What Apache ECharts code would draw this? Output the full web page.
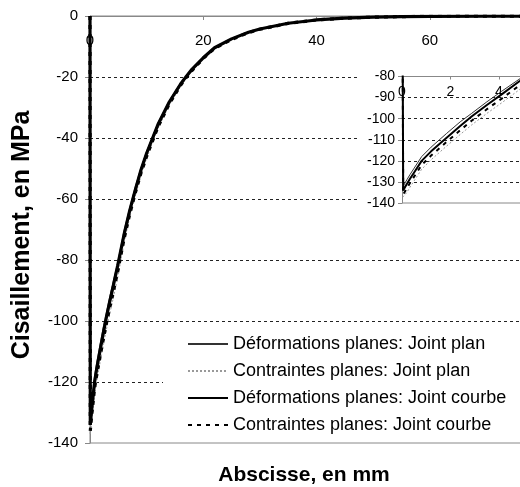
<!DOCTYPE html>
<html>
<head>
<meta charset="utf-8">
<script src="https://cdn.jsdelivr.net/npm/echarts@6/dist/echarts.min.js"></script>
<style>
html,body{margin:0;padding:0;background:#fff;}
#c{width:520px;height:487px;}
</style>
</head>
<body>
<div id="c"></div>
<script>
// Abscissa (mm)
var xs = [0, 0.05, 0.1, 0.2, 0.33, 0.5, 0.81, 1.2, 1.84, 2.4, 2.87, 3.5, 4.11, 4.87, 6, 7, 8, 9, 10, 12, 14, 16, 17, 18, 20, 22, 25, 28, 30, 35, 40, 45, 50, 55, 60, 70, 80];
// Shear stress (MPa)
var dpPlan   = [0, -132, -131, -129, -126.5, -123.5, -118, -113.5, -107, -101.5, -97.5, -92, -87, -81, -70.5, -63, -56, -49.8, -44.4, -35.1, -27.8, -21.9, -19.5, -17.3, -13.5, -10.2, -7.4, -5.3, -4.2, -2.3, -1.3, -0.7, -0.4, -0.2, -0.1, -0.03, 0];
var cpPlan   = [0, -137, -137, -135, -132.5, -129.5, -124, -119.5, -113, -107.5, -103, -97.5, -92.5, -86, -74.5, -66, -59, -52.5, -46.6, -36.9, -29.2, -23.1, -20.5, -18.1, -14.1, -10.8, -7.8, -5.5, -4.4, -2.45, -1.3, -0.7, -0.4, -0.2, -0.1, -0.03, 0];
var dpCourbe = [0, -134, -133, -131, -128.5, -125.5, -120, -115.5, -109, -103.5, -99, -93.5, -88.5, -82, -71.8, -63.9, -57, -50.5, -45, -35.6, -28.2, -22.3, -19.8, -17.5, -13.7, -10.4, -7.5, -5.35, -4.25, -2.38, -1.3, -0.7, -0.4, -0.2, -0.1, -0.03, 0];
var cpCourbe = [0, -136, -135, -133, -130.5, -127.5, -122, -117.5, -111, -105.5, -101, -95.5, -90.5, -84, -73.2, -65.1, -58, -51.5, -46, -36.4, -28.8, -22.7, -20.2, -17.9, -13.9, -10.6, -7.7, -5.45, -4.35, -2.42, -1.3, -0.7, -0.4, -0.2, -0.1, -0.03, 0];
var names = ['Déformations planes: Joint plan', 'Contraintes planes: Joint plan', 'Déformations planes: Joint courbe', 'Contraintes planes: Joint courbe'];
var xTitle = 'Abscisse, en mm';
var yTitle = 'Cisaillement, en MPa';

function pts(arr){ return xs.map(function(x,i){ return [x, arr[i]]; }); }
var FONT = 'Liberation Sans, Arial, sans-serif';
var styles = [
  {color:'#333', type:'solid'},
  {color:'#999', type:[2,2]},
  {color:'#000', type:'solid'},
  {color:'#000', type:[4,5]}
];
var mainW = [1, 1, 3.2, 3.2];
var insetW = [1, 1, 2, 2];
var datas = [dpPlan, cpPlan, dpCourbe, cpCourbe];
var series = [];
datas.forEach(function(d, k){
  series.push({
    name: names[k], type:'line', xAxisIndex:0, yAxisIndex:0, data: pts(d),
    showSymbol:false, symbol:'none', z:2,
    lineStyle: {color:styles[k].color, width:mainW[k], type:styles[k].type}, itemStyle:{color:styles[k].color}
  });
});
datas.forEach(function(d, k){
  series.push({
    name: names[k], type:'line', xAxisIndex:1, yAxisIndex:1, data: pts(d),
    showSymbol:false, symbol:'none', z:6,
    lineStyle: {color:styles[k].color, width:insetW[k], type:styles[k].type}, itemStyle:{color:styles[k].color}
  });
});

var chart = echarts.init(document.getElementById('c'), null, {renderer:'canvas'});
chart.setOption({
  animation:false,
  backgroundColor:'#fff',
  grid:[
    {left:90, top:16, width:453, bottom:44, show:true, borderColor:'#888', borderWidth:1, backgroundColor:'transparent', containLabel:false, outerBoundsMode:'none'},
    {left:402, top:76.5, width:145.5, bottom:284, show:false, containLabel:false, outerBoundsMode:'none'}
  ],
  xAxis:[
    {type:'value', gridIndex:0, position:'top', min:0, max:80, interval:20,
     axisLine:{show:true, onZero:false, lineStyle:{color:'#888'}},
     axisTick:{show:true, inside:true, length:4, lineStyle:{color:'#888'}},
     axisLabel:{inside:true, margin:17, fontSize:15, color:'#000', fontFamily:FONT},
     splitLine:{show:false}},
    {type:'value', gridIndex:1, position:'top', min:0, max:6, interval:2, z:5,
     axisLine:{show:true, onZero:false, lineStyle:{color:'#888'}},
     axisTick:{show:true, inside:true, length:3, lineStyle:{color:'#888'}},
     axisLabel:{inside:true, margin:9, fontSize:14, color:'#000', fontFamily:FONT},
     splitLine:{show:false}}
  ],
  yAxis:[
    {type:'value', gridIndex:0, min:-140, max:0, interval:20,
     axisLine:{show:true, onZero:false, lineStyle:{color:'#888'}},
     axisTick:{show:true, length:5, lineStyle:{color:'#888'}},
     axisLabel:{margin:12, fontSize:15, color:'#000', fontFamily:FONT},
     splitLine:{show:true, showMinLine:false, showMaxLine:false, lineStyle:{color:'#222', type:[3,3], width:1}}},
    {type:'value', gridIndex:1, min:-140, max:-80, interval:10, z:5,
     axisLine:{show:true, onZero:false, lineStyle:{color:'#888'}},
     axisTick:{show:true, length:4, lineStyle:{color:'#888'}},
     axisLabel:{margin:7, fontSize:14, color:'#000', fontFamily:FONT},
     splitLine:{show:true, showMinLine:false, showMaxLine:false, lineStyle:{color:'#222', type:[3,3], width:1}}}
  ],
  legend:{
    orient:'vertical', left:187, top:335, padding:0, itemWidth:40, itemHeight:18, itemGap:9,
    data:names, textStyle:{fontSize:18, color:'#000', fontFamily:FONT}, z:8,
    itemStyle:{opacity:0}
  },
  graphic:[
    {type:'rect', z:3, shape:{x:360, y:58, width:200, height:155}, style:{fill:'#fff'}},
    {type:'rect', z:3, shape:{x:163, y:327, width:400, height:113}, style:{fill:'#fff'}},
    {type:'line', z:4, shape:{x1:402, y1:203, x2:560, y2:203}, style:{stroke:'#888', lineWidth:1}},
    {type:'text', z:10, x:304, y:475, style:{text:xTitle, font:'bold 21px ' + FONT, fill:'#000', textAlign:'center', textVerticalAlign:'middle'}},
    {type:'text', z:10, x:22, y:235, rotation:Math.PI/2, style:{text:yTitle, font:'bold 25px ' + FONT, fill:'#000', textAlign:'center', textVerticalAlign:'middle'}}
  ],
  series: series
});
</script>
</body>
</html>
